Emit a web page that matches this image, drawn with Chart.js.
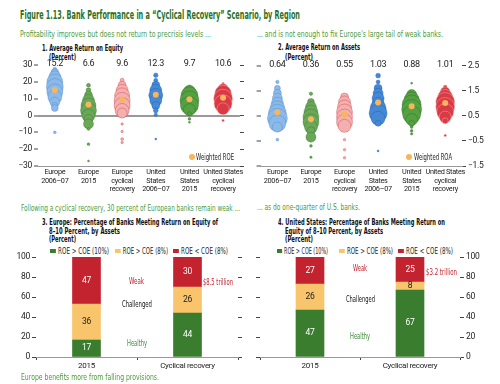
<!DOCTYPE html>
<html>
<head>
<meta charset="utf-8">
<script src="https://cdn.jsdelivr.net/npm/chart.js@4.4.1/dist/chart.umd.min.js"></script>
<style>
body { margin: 0; background: #fff; }
#page { position: relative; width: 500px; height: 384px; overflow: hidden;
  font-family: "Liberation Sans Narrow", "DejaVu Sans Condensed", "Arial Narrow", sans-serif; color: #222; }
.t { position: absolute; white-space: nowrap; line-height: 10px; transform-origin: 0 50%; }
.title { font-size: 11.5px; font-weight: bold; color: #2b7024; line-height: 14px; }
.sub { font-size: 9.5px; color: #4e9a3a; line-height: 12px; }
.ph { font-size: 9px; font-weight: bold; color: #111; }
.lg { font-size: 8.5px; color: #222; }
.sw { display: inline-block; width: 8px; height: 4px; margin-right: 3px; vertical-align: 1px; }
.dot { position: absolute; width: 6px; height: 6px; border-radius: 3px; background: #f7b55e; }
.an { font-size: 8.5px; }
canvas { position: absolute; }
</style>
</head>
<body>
<div id="page">
  <div class="t title" data-w="280" style="left:20px;top:8px">Figure 1.13. Bank Performance in a “Cyclical Recovery” Scenario, by Region</div>
  <div class="t sub" data-w="191" style="left:20px;top:28px">Profitability improves but does not return to precrisis levels ...</div>
  <div class="t sub" data-w="186" style="left:257px;top:28px">... and is not enough to fix Europe's large tail of weak banks.</div>

  <div class="t ph" data-w="81" style="left:42px;top:43px">1. Average Return on Equity</div>
  <div class="t ph" data-w="27" style="left:49px;top:52px">(Percent)</div>
  <div class="t ph" data-w="82" style="left:278px;top:42px">2. Average Return on Assets</div>
  <div class="t ph" data-w="28" style="left:285px;top:52px">(Percent)</div>

  <canvas id="c1" width="250" height="142" style="left:0;top:55px"></canvas>
  <canvas id="c2" width="250" height="142" style="left:250px;top:55px"></canvas>

  <div class="dot" style="left:189px;top:154px"></div>
  <div class="t lg" data-w="38" style="left:196px;top:152px">Weighted ROE</div>
  <div class="dot" style="left:406px;top:154px"></div>
  <div class="t lg" data-w="38" style="left:414px;top:152px">Weighted ROA</div>

  <div class="t sub" data-w="219" style="left:21px;top:202px">Following a cyclical recovery, 30 percent of European banks remain weak ...</div>
  <div class="t sub" data-w="103" style="left:257px;top:201px">... as do one-quarter of U.S. banks.</div>

  <div class="t ph" data-w="176" style="left:42px;top:217px">3. Europe: Percentage of Banks Meeting Return on Equity of</div>
  <div class="t ph" data-w="71" style="left:49px;top:226px">8–10 Percent, by Assets</div>
  <div class="t ph" data-w="27" style="left:49px;top:234px">(Percent)</div>
  <div class="t ph" data-w="167" style="left:278px;top:217px">4. United States: Percentage of Banks Meeting Return on</div>
  <div class="t ph" data-w="98" style="left:285px;top:226px">Equity of 8–10 Percent, by Assets</div>
  <div class="t ph" data-w="28" style="left:285px;top:234px">(Percent)</div>

  <div class="t lg" data-w="59" style="left:50px;top:246px"><span class="sw" style="background:#3b7d2f"></span>ROE &gt; COE (10%)</div>
  <div class="t lg" data-w="53" style="left:115px;top:246px"><span class="sw" style="background:#f8c46c"></span>ROE &gt; COE (8%)</div>
  <div class="t lg" data-w="55" style="left:173px;top:246px"><span class="sw" style="background:#c3222f"></span>ROE &lt; COE (8%)</div>
  <div class="t lg" data-w="51" style="left:277px;top:246px"><span class="sw" style="background:#3b7d2f"></span>ROE &gt; COE (10%)</div>
  <div class="t lg" data-w="54" style="left:339px;top:246px"><span class="sw" style="background:#f8c46c"></span>ROE &gt; COE (8%)</div>
  <div class="t lg" data-w="55" style="left:398px;top:246px"><span class="sw" style="background:#c3222f"></span>ROE &lt; COE (8%)</div>

  <canvas id="c3" width="250" height="125" style="left:0;top:250px"></canvas>
  <canvas id="c4" width="250" height="125" style="left:250px;top:250px"></canvas>

  <div class="t an" data-w="15" style="left:129px;top:276px;color:#c3222f">Weak</div>
  <div class="t an" data-w="30" style="left:203px;top:277px;color:#c3222f">$8.5 trillion</div>
  <div class="t an" data-w="30" style="left:122px;top:299px;color:#111">Challenged</div>
  <div class="t an" data-w="20" style="left:127px;top:338px;color:#3c8c3c">Healthy</div>
  <div class="t an" data-w="14" style="left:353px;top:263px;color:#c3222f">Weak</div>
  <div class="t an" data-w="31" style="left:426px;top:267px;color:#c3222f">$3.2 trillion</div>
  <div class="t an" data-w="29" style="left:346px;top:294px;color:#111">Challenged</div>
  <div class="t an" data-w="20" style="left:350px;top:331px;color:#3c8c3c">Healthy</div>

  <div class="t sub" data-w="138" style="left:21px;top:371px">Europe benefits more from falling provisions.</div>
</div>

<script>
// categories
const regionLabels = [
  ['Europe', '2006–07'],
  ['Europe', '2015'],
  ['Europe', 'cyclical', 'recovery'],
  ['United', 'States', '2006–07'],
  ['United', 'States', '2015'],
  ['United States', 'cyclical', 'recovery']
];
const barCategories = ['2015', 'Cyclical recovery'];

// weighted averages (printed on top)
const roeWeighted = [15.2, 6.6, 9.6, 12.3, 9.7, 10.6];
const roaWeighted = [0.64, 0.36, 0.55, 1.03, 0.88, 1.01];

// bank distributions: [value, relative assets]
const roeEurope0607 = [[27.5,4],[25.5,16],[23,36],[20,64],[17,72],[14,64],[11,49],[8,25],[6,9],[4.5,12],[-10,2]];
const roeEurope2015 = [[18,4],[15,6],[12,16],[9,36],[6,56],[3,64],[0,42],[-2,20],[-5,25],[-8,2],[-17,2],[-27,1]];
const roeEuropeRec = [[21,4],[18,16],[15,36],[12,56],[9,64],[6,64],[3,49],[1.5,25],[-5,1.5],[-9.5,1.5],[-14,2],[-16,1.5]];
const roeUS0607 = [[24,5],[21,4],[18,16],[15,36],[12,49],[9,36],[6,16],[3,6],[0.5,3],[-14,1]];
const roeUS2015 = [[17,3],[14.5,36],[12,72],[9,90],[6,81],[3.5,36],[1,4],[-2,2],[-4,1]];
const roeUSRec = [[19,1.5],[16,25],[13,72],[10,90],[7,81],[4,36],[-3,1.5]];

const roaEurope0607 = [[1.85,3],[1.6,9],[1.4,16],[1.2,25],[1.0,36],[0.8,56],[0.6,81],[0.4,100],[0.2,72],[0.05,25],[-0.45,2]];
const roaEurope2015 = [[1.38,3],[1.05,12],[0.85,30],[0.65,49],[0.45,64],[0.25,64],[0.05,42],[-0.1,16],[-0.35,25],[-0.7,2],[-1.15,1.5]];
const roaEuropeRec = [[1.25,16],[1.05,36],[0.85,49],[0.65,64],[0.45,64],[0.25,64],[0.1,42],[-0.45,1.5],[-0.85,1.5],[-1.17,1.5]];
const roaUS0607 = [[2.1,6],[1.85,4],[1.6,16],[1.4,25],[1.2,36],[1.0,36],[0.8,64],[0.6,81],[0.4,49],[0.2,9],[-0.9,1]];
const roaUS2015 = [[1.8,1],[1.35,25],[1.15,56],[0.95,90],[0.75,100],[0.55,81],[0.35,36],[0.2,9],[0.05,2],[-0.1,2],[-0.22,1.5]];
const roaUSRec = [[1.65,4],[1.45,25],[1.25,56],[1.05,90],[0.85,90],[0.65,72],[0.45,36],[0.3,9],[-0.28,1.5]];

// share of bank assets, percent
const europeHealthy = [17, 44];
const europeChallenged = [36, 26];
const europeWeak = [47, 30];
const usHealthy = [47, 67];
const usChallenged = [26, 8];
const usWeak = [27, 25];

// squeeze the html text to the condensed widths of the original
document.querySelectorAll('[data-w]').forEach(el => {
  const w = el.getBoundingClientRect().width;
  el.style.transform = 'scaleX(' + (el.dataset.w / w) + ')';
});

const FONT = 'Roboto, "Liberation Sans", sans-serif';
Chart.defaults.font.family = FONT;
Chart.defaults.color = '#222';

const GREEN = '#3b7d2f', YELLOW = '#f8c46c', RED = '#c3222f';
const violinColors = [
  { fill: '#8bb9e8', line: 'rgba(45,110,190,0.45)' },
  { fill: '#6aa858', line: 'rgba(30,100,30,0.5)' },
  { fill: '#f4b0ae', line: 'rgba(200,30,45,0.55)' },
  { fill: '#4488d6', line: 'rgba(20,80,160,0.5)' },
  { fill: '#55a040', line: 'rgba(25,95,25,0.5)' },
  { fill: '#d93a44', line: 'rgba(250,190,190,0.7)' }
];

const fixW = w => s => { s.width = w; };
const fixH = h => s => { s.height = h; };
const minus = v => (Number(v) < 0 ? '−' + String(v).replace('-', '') : String(v));

// tighter letter spacing for all canvas text (condensed look of the original)
const condense = {
  id: 'condense',
  beforeDraw(chart) { chart.ctx.letterSpacing = '-0.3px'; },
  afterDraw(chart) { chart.ctx.letterSpacing = '0px'; }
};

const topValues = {
  id: 'topValues',
  afterDatasetsDraw(chart, args, opts) {
    const { ctx, chartArea, scales } = chart;
    ctx.save();
    ctx.font = '9px ' + FONT;
    ctx.fillStyle = '#222';
    ctx.textAlign = 'center';
    ctx.textBaseline = 'middle';
    opts.values.forEach((v, i) => {
      ctx.fillText(v.toFixed(opts.digits), scales.x.getPixelForValue(i), chartArea.top - 1);
    });
    ctx.restore();
  }
};

const barValues = {
  id: 'barValues',
  afterDatasetsDraw(chart) {
    const ctx = chart.ctx;
    ctx.save();
    ctx.font = '8.5px ' + FONT;
    ctx.textAlign = 'center';
    ctx.textBaseline = 'middle';
    chart.data.datasets.forEach((ds, di) => {
      chart.getDatasetMeta(di).data.forEach((el, i) => {
        ctx.fillStyle = di === 1 ? '#222' : '#fff';
        ctx.fillText(ds.data[i], el.x, (el.y + el.base) / 2);
      });
    });
    ctx.restore();
  }
};

function violinChart(id, series, weighted, yMin, yMax, yStep, zeroStyle, leftLabels, rightLabels, leftW, rightW, digits) {
  const datasets = [{
    data: weighted.map((v, i) => ({ x: i, y: v })),
    backgroundColor: '#f7b55e',
    borderWidth: 0,
    radius: 3,
    order: 0
  }];
  series.forEach((s, i) => {
    datasets.push({
      data: s.map(p => ({ x: i, y: p[0], r: Math.sqrt(p[1]) })),
      backgroundColor: violinColors[i].fill,
      borderColor: violinColors[i].line,
      borderWidth: 0.6,
      order: 1
    });
  });
  return new Chart(document.getElementById(id), {
    type: 'bubble',
    data: { datasets },
    options: {
      responsive: false,
      animation: false,
      devicePixelRatio: 1,
      layout: { padding: { top: 10 } },
      plugins: {
        legend: { display: false },
        tooltip: { enabled: false },
        topValues: { values: weighted, digits }
      },
      scales: {
        x: {
          type: 'linear', min: -0.5, max: 5.5,
          afterBuildTicks: s => { s.ticks = regionLabels.map((_, i) => ({ value: i })); },
          ticks: { callback: v => regionLabels[v], font: { size: 7.3, lineHeight: 1.18 }, padding: 2, maxRotation: 0, autoSkip: false },
          grid: { display: false, drawTicks: false },
          border: { display: true, color: '#999' },
          afterFit: fixH(31)
        },
        y: {
          position: 'left', min: yMin, max: yMax,
          ticks: { stepSize: yStep, callback: leftLabels, font: { size: 8.5 }, padding: 2 },
          grid: {
            color: c => (c.tick.value === 0 ? zeroStyle.color : 'rgba(0,0,0,0)'),
            lineWidth: c => (c.tick.value === 0 ? zeroStyle.width : 0),
            tickColor: '#444', tickWidth: 1, tickLength: 4
          },
          border: { display: false },
          afterFit: fixW(leftW)
        },
        y2: {
          position: 'right', min: yMin, max: yMax,
          ticks: { stepSize: yStep, callback: rightLabels, font: { size: 8.5 }, padding: 2 },
          grid: { drawOnChartArea: false, tickColor: '#444', tickWidth: 1, tickLength: 4 },
          border: { display: false },
          afterFit: fixW(rightW)
        }
      }
    },
    plugins: [condense, topValues]
  });
}

violinChart('c1',
  [roeEurope0607, roeEurope2015, roeEuropeRec, roeUS0607, roeUS2015, roeUSRec],
  roeWeighted, -30, 30, 10, { color: '#999', width: 2 },
  v => minus(v), () => '', 38, 8, 1);

violinChart('c2',
  [roaEurope0607, roaEurope2015, roaEuropeRec, roaUS0607, roaUS2015, roaUSRec],
  roaWeighted, -1.5, 2.5, 0.5, { color: '#222', width: 1 },
  () => '', v => (Math.round((v + 1.5) * 2) % 2 === 0 ? minus(v.toFixed(1)) : ''), 9, 38, 2);

function barChart(id, healthy, challenged, weak, leftLabels, rightLabels, leftW, rightW) {
  return new Chart(document.getElementById(id), {
    type: 'bar',
    data: {
      labels: barCategories,
      datasets: [
        { label: 'ROE > COE (10%)', data: healthy, backgroundColor: GREEN },
        { label: 'ROE > COE (8%)', data: challenged, backgroundColor: YELLOW },
        { label: 'ROE < COE (8%)', data: weak, backgroundColor: RED }
      ]
    },
    options: {
      responsive: false,
      animation: false,
      devicePixelRatio: 1,
      barThickness: 28,
      layout: { padding: { top: 7 } },
      plugins: { legend: { display: false }, tooltip: { enabled: false } },
      scales: {
        x: {
          stacked: true,
          ticks: { font: { size: 8 }, padding: 1, maxRotation: 0 },
          grid: { drawOnChartArea: false, tickColor: '#444', tickLength: 3 },
          border: { color: '#999' },
          afterFit: fixH(18)
        },
        y: {
          stacked: true, position: 'left', min: 0, max: 100,
          ticks: { stepSize: 10, callback: leftLabels, font: { size: 8.5 }, padding: 2 },
          grid: { drawOnChartArea: false, tickColor: '#444', tickLength: 4 },
          border: { display: false },
          afterFit: fixW(leftW)
        },
        y2: {
          position: 'right', min: 0, max: 100,
          ticks: { stepSize: 10, callback: rightLabels, font: { size: 8.5 }, padding: 2 },
          grid: { drawOnChartArea: false, tickColor: '#444', tickLength: 4 },
          border: { display: false },
          afterFit: fixW(rightW)
        }
      }
    },
    plugins: [condense, barValues]
  });
}

barChart('c3', europeHealthy, europeChallenged, europeWeak, v => v, () => '', 36, 12);
barChart('c4', usHealthy, usChallenged, usWeak, () => '', v => v, 10, 40);
</script>
</body>
</html>
